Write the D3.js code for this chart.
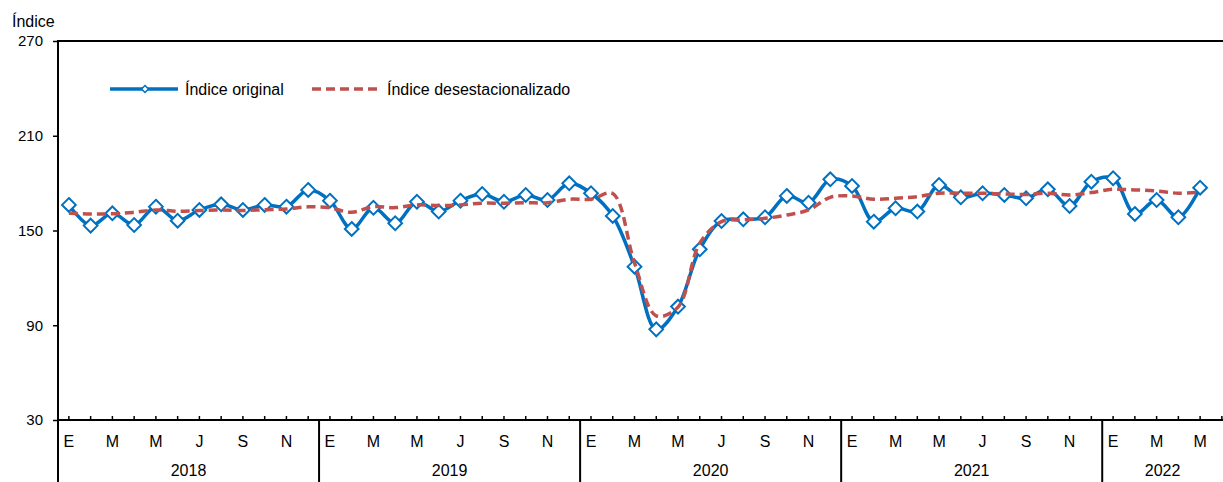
<!DOCTYPE html>
<html><head><meta charset="utf-8">
<script src="https://cdn.jsdelivr.net/npm/d3@7"></script>
<style>
body{margin:0;background:#fff;}
svg text{font-family:"Liberation Sans Narrow","Arial Narrow","Liberation Sans",Arial,sans-serif;fill:#000;}
</style></head><body>
<svg id="chart" width="1223" height="482"></svg>
<script>
const years = ["2018","2019","2020","2021","2022"];
const monthLetters = ["E","F","M","A","M","J","J","A","S","O","N","D"];
const yTicks = [30, 90, 150, 210, 270];
const seriesNames = ["Índice original", "Índice desestacionalizado"];

const original2018 = [166.2,153.1,160.9,153.5,165.1,156.2,163.0,166.6,163.0,166.2,165.1,175.7];
const original2019 = [168.9,151.0,164.4,154.6,168.2,162.0,168.9,173.1,168.2,172.5,169.3,179.9];
const original2020 = [173.6,159.2,127.1,87.4,101.8,138.1,156.0,157.1,158.4,171.9,167.6,182.4];
const original2021 = [178.2,155.6,164.1,162.0,178.8,171.0,173.6,172.5,170.4,176.1,165.5,180.9];
const original2022 = [183.1,160.5,169.3,158.4,177.1];

const sa2018 = [161.0,160.5,160.6,161.5,163.0,162.2,162.6,163.0,162.6,163.2,163.6,165.0];
const sa2019 = [164.3,161.5,165.1,164.5,166.2,165.8,166.2,167.3,167.3,167.6,167.6,169.8];
const sa2020 = [169.8,173.4,129.5,96.0,101.5,142.0,155.6,156.7,157.7,159.8,163.0,171.0];
const sa2021 = [171.9,169.8,170.4,171.4,173.6,173.6,173.6,173.1,172.8,173.6,172.5,174.0];
const sa2022 = [176.1,175.7,175.0,173.6,174.2];

const original = [].concat(original2018, original2019, original2020, original2021, original2022);
const seasonal = [].concat(sa2018, sa2019, sa2020, sa2021, sa2022);
const nMonths = 53;

const W = 1223, H = 482;
const mLeft = 58, mTop = 41, mBottom = 420, plotRight = 1211;
const svg = d3.select("#chart");

const x = d3.scaleLinear().domain([0, nMonths]).range([mLeft, plotRight]);
const y = d3.scaleLinear().domain([30, 270]).range([mBottom, mTop]);
const xc = i => x(i + 0.5);

// frame: top border and left axis
svg.append("line").attr("x1", mLeft).attr("x2", W).attr("y1", mTop).attr("y2", mTop)
  .attr("stroke", "#000").attr("stroke-width", 2);

// y axis
const yAxis = d3.axisLeft(y).tickValues(yTicks).tickSize(5).tickPadding(10);
const gy = svg.append("g").attr("transform", `translate(${mLeft},0)`).call(yAxis);
gy.select(".domain").remove();
gy.selectAll(".tick line").attr("stroke", "#000").attr("stroke-width", 1.5);
gy.selectAll(".tick text").attr("font-size", 15).attr("font-family", null);
svg.append("line").attr("x1", mLeft).attr("x2", mLeft).attr("y1", mTop - 1).attr("y2", H)
  .attr("stroke", "#000").attr("stroke-width", 2);

svg.append("text").attr("x", 12).attr("y", 27).attr("font-size", 16).text("Índice");

// x axis
svg.append("line").attr("x1", mLeft).attr("x2", W).attr("y1", mBottom).attr("y2", mBottom)
  .attr("stroke", "#000").attr("stroke-width", 2);
const monthIdx = d3.range(nMonths + 1);
svg.append("g").selectAll("line").data(monthIdx).join("line")
  .attr("x1", d => xc(d)).attr("x2", d => xc(d))
  .attr("y1", mBottom).attr("y2", mBottom - 4)
  .attr("stroke", "#000").attr("stroke-width", 1.5);

// month labels (every other month)
svg.append("g").selectAll("text").data(d3.range(0, nMonths, 2)).join("text")
  .attr("x", d => xc(d)).attr("y", 447).attr("text-anchor", "middle")
  .attr("font-size", 16).text(d => monthLetters[d % 12]);

// year separators and labels
years.forEach((yr, k) => {
  const start = x(k * 12);
  const end = Math.min(x((k + 1) * 12), W);
  if (k > 0) {
    svg.append("line").attr("x1", start).attr("x2", start).attr("y1", mBottom).attr("y2", H)
      .attr("stroke", "#000").attr("stroke-width", 2);
  }
  svg.append("text").attr("x", (start + end) / 2).attr("y", 476).attr("text-anchor", "middle")
    .attr("font-size", 16).text(yr);
});

// lines
const lineGen = d3.line().x((d, i) => xc(i)).y(d => y(d)).curve(d3.curveCatmullRom.alpha(0.5));
svg.append("path").datum(original).attr("d", lineGen)
  .attr("fill", "none").attr("stroke", "#0070C0").attr("stroke-width", 3.5);
svg.append("g").selectAll("path").data(original).join("path")
  .attr("d", d3.symbol(d3.symbolDiamond2, 120)())
  .attr("transform", (d, i) => `translate(${xc(i)},${y(d)})`)
  .attr("fill", "#fff").attr("stroke", "#0070C0").attr("stroke-width", 2);
svg.append("path").datum(seasonal).attr("d", lineGen)
  .attr("fill", "none").attr("stroke", "#C0504D").attr("stroke-width", 3.5)
  .attr("stroke-dasharray", "9,5");

// legend
const lg = svg.append("g");
lg.append("line").attr("x1", 110).attr("x2", 178).attr("y1", 89).attr("y2", 89)
  .attr("stroke", "#0070C0").attr("stroke-width", 3.5);
lg.append("path").attr("d", d3.symbol(d3.symbolDiamond2, 30)())
  .attr("transform", "translate(145,89)")
  .attr("fill", "#fff").attr("stroke", "#0070C0").attr("stroke-width", 1.5);
lg.append("text").attr("x", 185).attr("y", 95).attr("font-size", 16).text(seriesNames[0]);
lg.append("line").attr("x1", 312).attr("x2", 380).attr("y1", 89).attr("y2", 89)
  .attr("stroke", "#C0504D").attr("stroke-width", 3.5).attr("stroke-dasharray", "9,5");
lg.append("text").attr("x", 387).attr("y", 95).attr("font-size", 16).text(seriesNames[1]);
</script></body></html>
